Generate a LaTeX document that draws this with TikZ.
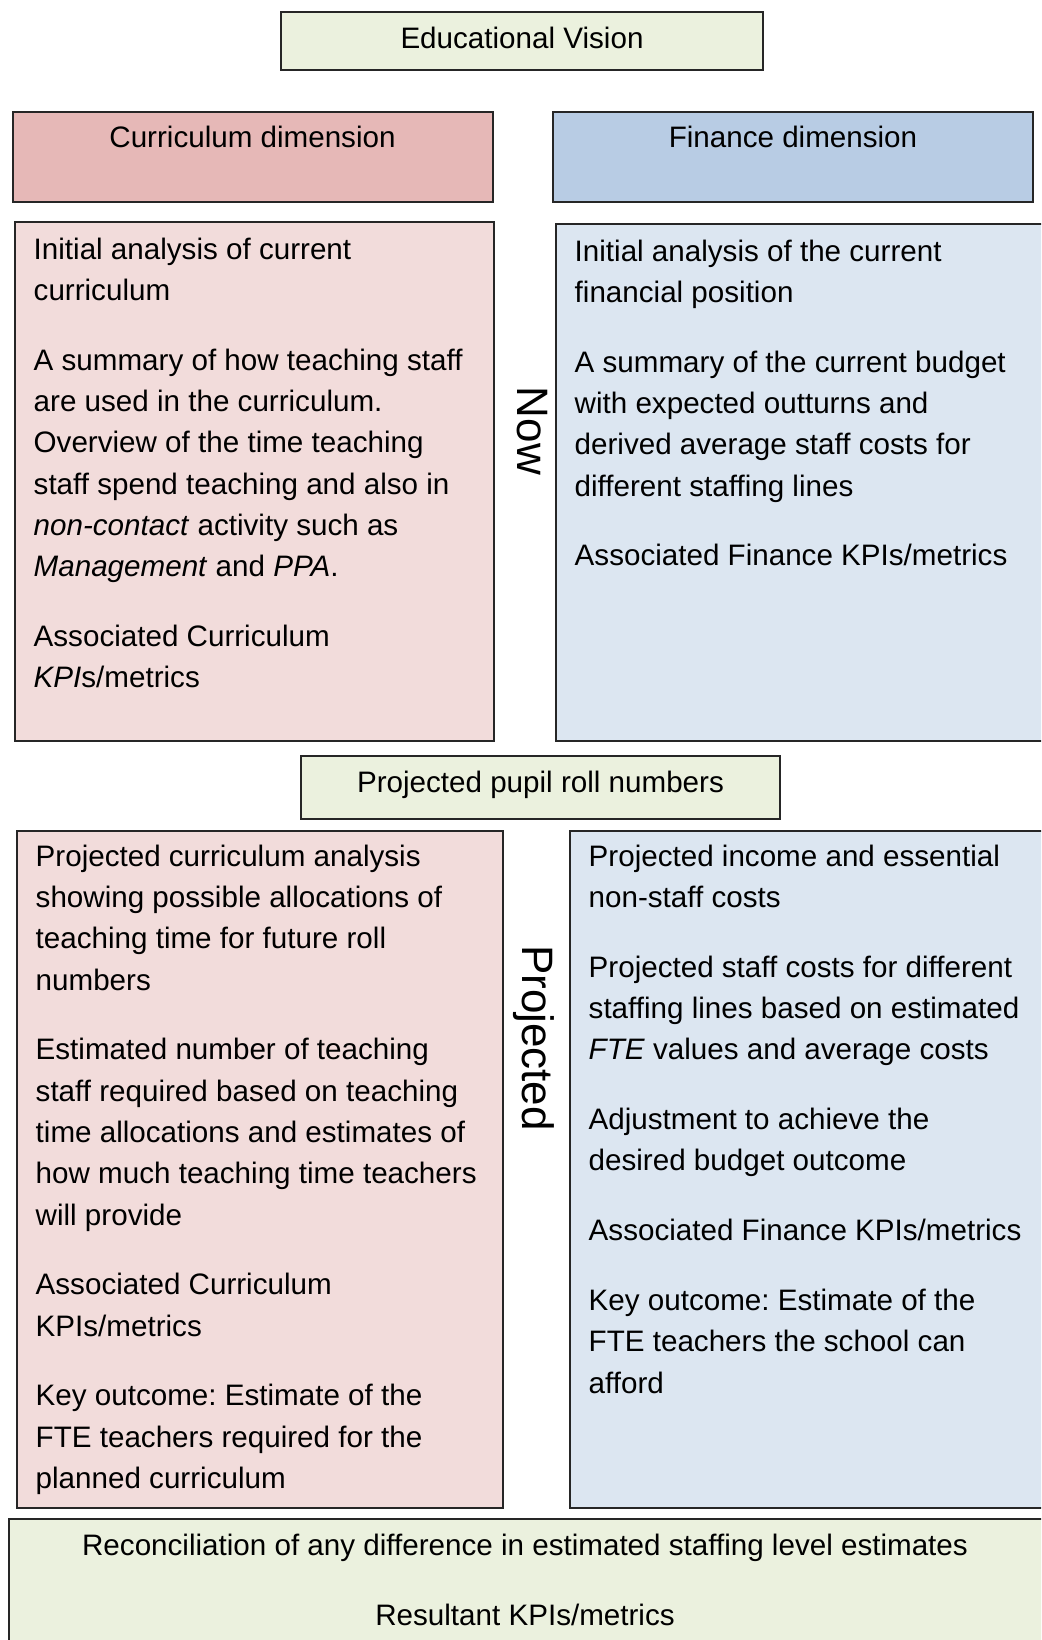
\documentclass[tikz,border=0pt]{standalone}
\usepackage{fontspec}
\setmainfont{Liberation Sans}
\usepackage{xcolor}
\usetikzlibrary{positioning}
\frenchspacing

\definecolor{visionfill}{HTML}{EBF1DE}
\definecolor{currhead}{HTML}{E6B8B7}
\definecolor{currbody}{HTML}{F2DCDB}
\definecolor{finhead}{HTML}{B8CCE4}
\definecolor{finbody}{HTML}{DCE6F1}

\newcommand{\pgap}{\\[28.5pt]}

\tikzset{
  box/.style={draw=black!85, line width=2pt, anchor=north west, inner sep=0pt, outer sep=0pt},
  txt/.style={align=left, inner sep=0pt, font=\fontsize{29.6}{41.3}\selectfont},
  side/.style={inner sep=0pt, rotate=-90, font=\fontsize{44}{50}\selectfont}
}

\begin{document}
\begin{tikzpicture}[x=1pt,y=-1pt]
\useasboundingbox (0,0) rectangle (1041,1640);
\clip (0,0) rectangle (1041,1640);

% boxes
\node [box, fill=visionfill, minimum width=482pt, minimum height=58pt] (vision) at (281,12) {};
\node [box, fill=currhead, minimum width=480pt, minimum height=90pt] (currdim) at (12.5,112) {};
\node [box, fill=finhead, minimum width=480pt, minimum height=90pt] (findim) at (553,112) {};
\node [box, fill=currbody, minimum width=479pt, minimum height=519pt] (currnow) at (15,222) {};
\node [box, fill=finbody, minimum width=520pt, minimum height=517pt] (finnow) at (556,224) {};
\node [box, fill=visionfill, minimum width=479pt, minimum height=63pt] (pupils) at (301,756) {};
\node [box, fill=currbody, minimum width=486pt, minimum height=677pt] (currproj) at (17,831) {};
\node [box, fill=finbody, minimum width=520pt, minimum height=677pt] (finproj) at (570,831) {};
\node [box, fill=visionfill, minimum width=1100pt, minimum height=200pt] (recon) at (9,1519) {};

% headings
\node [txt, yshift=3pt] (visiontxt) at (vision.center) {Educational Vision};
\node [txt, below=14pt of currdim.north] (currdimtxt) {Curriculum dimension};
\node [txt, below=14pt of findim.north] (findimtxt) {Finance dimension};
\node [txt, yshift=3pt] (pupilstxt) at (pupils.center) {Projected pupil roll numbers};

% side labels
\node [side] (nowlbl) at (532,431) {Now};
\node [side] (projlbl) at (534,1038) {Projected};

% body texts
\node [txt, below right=15.5pt and 18.5pt of currnow.north west] (currnowtxt) {Initial analysis of current\\curriculum\pgap
A summary of how teaching staff\\are used in the curriculum.\\Overview of the time teaching\\staff spend teaching and also in\\\textit{non-contact} activity such as\\\textit{Management} and \textit{PPA}.\pgap
Associated Curriculum\\\textit{KPI}s/metrics};

\node [txt, below right=15.5pt and 18.5pt of finnow.north west] (finnowtxt) {Initial analysis of the current\\financial position\pgap
A summary of the current budget\\with expected outturns and\\derived average staff costs for\\different staffing lines\pgap
Associated Finance KPIs/metrics};

\node [txt, below right=13.5pt and 18.5pt of currproj.north west] (currprojtxt) {Projected curriculum analysis\\showing possible allocations of\\teaching time for future roll\\numbers\pgap
Estimated number of teaching\\staff required based on teaching\\time allocations and estimates of\\how much teaching time teachers\\will provide\pgap
Associated Curriculum\\KPIs/metrics\pgap
Key outcome: Estimate of the\\FTE teachers required for the\\planned curriculum};

\node [txt, below right=13.5pt and 18.5pt of finproj.north west] (finprojtxt) {Projected income and essential\\non-staff costs\pgap
Projected staff costs for different\\staffing lines based on estimated\\\textit{FTE} values and average costs\pgap
Adjustment to achieve the\\desired budget outcome\pgap
Associated Finance KPIs/metrics\pgap
Key outcome: Estimate of the\\FTE teachers the school can\\afford};

\node [txt, align=center, anchor=north] (recontxt) at (525,1534) {Reconciliation of any difference in estimated staffing level estimates\pgap Resultant KPIs/metrics};
\end{tikzpicture}
\end{document}
